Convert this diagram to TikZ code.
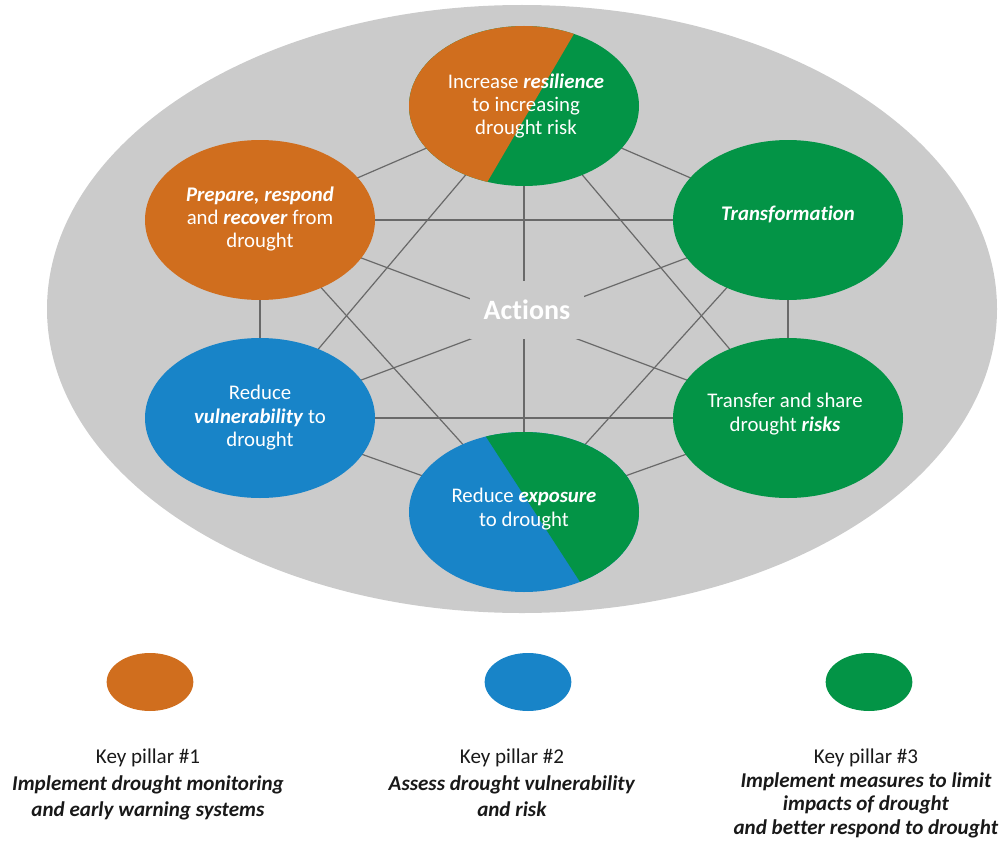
\documentclass[tikz,border=0pt]{standalone}
\usepackage{fontspec}
\setmainfont{Carlito}[Ligatures=NoCommon]
\usetikzlibrary{shapes.geometric,backgrounds}

\definecolor{pillarorange}{RGB}{208,110,30}
\definecolor{pillarblue}{RGB}{24,132,200}
\definecolor{pillargreen}{RGB}{3,148,70}
\definecolor{bggrey}{RGB}{203,203,203}
\definecolor{linkgrey}{RGB}{105,105,105}

\begin{document}
\begin{tikzpicture}[x=0.75pt, y=-0.75pt,
    action/.style={ellipse, inner sep=0pt, minimum width=172.5pt, minimum height=120pt},
    actiontext/.style={text=white, align=center, inner sep=0pt, font=\fontsize{15.6}{17.6}\selectfont},
    link/.style={draw=linkgrey, line width=0.9pt},
    key/.style={ellipse, inner sep=0pt, minimum width=65pt, minimum height=43.5pt},
    keytext/.style={anchor=north, align=center, inner sep=0pt, text=black!90, font=\fontsize{15.8}{19.8}\selectfont}]

    % --- Frame (same size as the reference) ---
    \useasboundingbox (0,0) rectangle (1003,842);

    % --- Split lines of the two-coloured ellipses ---
    % top one: orange left of the line, green right
    \coordinate (resA) at (599,-9);
    \coordinate (resB) at (461,227);
    \coordinate (resC) at (380,227);
    \coordinate (resD) at (380,-9);
    % bottom one: blue left of the line, green right
    \coordinate (expoA) at (457,392);
    \coordinate (expoB) at (606,622);
    \coordinate (expoC) at (670,622);
    \coordinate (expoD) at (670,392);

    % --- Action ellipses ---
    \node[action, fill=pillargreen,
      path picture={\fill[pillarorange] (resA) -- (resB) -- (resC) -- (resD) -- cycle;}]
      (res) at (524,106) {};
    \node[action, fill=pillarorange] (prep) at (260,220) {};
    \node[action, fill=pillargreen] (trans) at (788,220) {};
    \node[action, fill=pillarblue] (vul) at (260,418) {};
    \node[action, fill=pillargreen] (share) at (788,418) {};
    \node[action, fill=pillarblue,
      path picture={\fill[pillargreen] (expoA) -- (expoB) -- (expoC) -- (expoD) -- cycle;}]
      (expo) at (524,512) {};

    % --- Action texts (a little above the centres) ---
    \node[actiontext] (resT) at (526,106) {Increase \textbf{\textit{resilience}}\\to increasing\\drought risk};
    \node[actiontext] (prepT) at (260,219) {\textbf{\textit{Prepare, respond}}\\and \textbf{\textit{recover}} from\\drought};
    \node[actiontext] (transT) at (788,214) {\textbf{\textit{Transformation}}};
    \node[actiontext] (vulT) at (260,418) {Reduce\\\textbf{\textit{vulnerability}} to\\drought};
    \node[actiontext] (shareT) at (785,414) {Transfer and share\\drought \textbf{\textit{risks}}};
    \node[actiontext] (expoT) at (524,509) {Reduce \textbf{\textit{exposure}}\\to drought};

    % --- Grey ellipse and links, behind the actions ---
    \begin{pgfonlayer}{background}
        \fill[bggrey] (522,309) ellipse [x radius=475, y radius=304];
        % every action is linked to every other one
        \foreach \a/\b in {res/prep, res/trans, res/vul, res/share, res/expo,
                           prep/trans, prep/vul, prep/share, prep/expo,
                           trans/vul, trans/share, trans/expo,
                           vul/share, vul/expo, share/expo}
            \draw[link] (\a.center) -- (\b.center);
    \end{pgfonlayer}

    % --- Centre label (hides the links around it) ---
    \node[fill=bggrey, minimum width=86pt, minimum height=43pt, text=white,
      font=\bfseries\fontsize{21}{24}\selectfont] (act) at (527,310) {Actions};

    % --- Legend ---
    \node[key, fill=pillarorange] (key1) at (150,682) {};
    \node[key, fill=pillarblue] (key2) at (528,682) {};
    \node[key, fill=pillargreen] (key3) at (869,682) {};
    \node[keytext] (lab1) at (148,749)
      {Key pillar \#1\\\textbf{\textit{Implement drought monitoring}}\\\textbf{\textit{and early warning systems}}};
    \node[keytext] (lab2) at (512,749)
      {Key pillar \#2\\\textbf{\textit{Assess drought vulnerability}}\\\textbf{\textit{and risk}}};
    % third text has tighter lines
    \node[keytext, font=\fontsize{15.8}{17.6}\selectfont] (lab3) at (866,749)
      {Key pillar \#3\\\textbf{\textit{Implement measures to limit}}\\\textbf{\textit{impacts of drought}}\\\textbf{\textit{and better respond to drought}}};

\end{tikzpicture}
\end{document}
